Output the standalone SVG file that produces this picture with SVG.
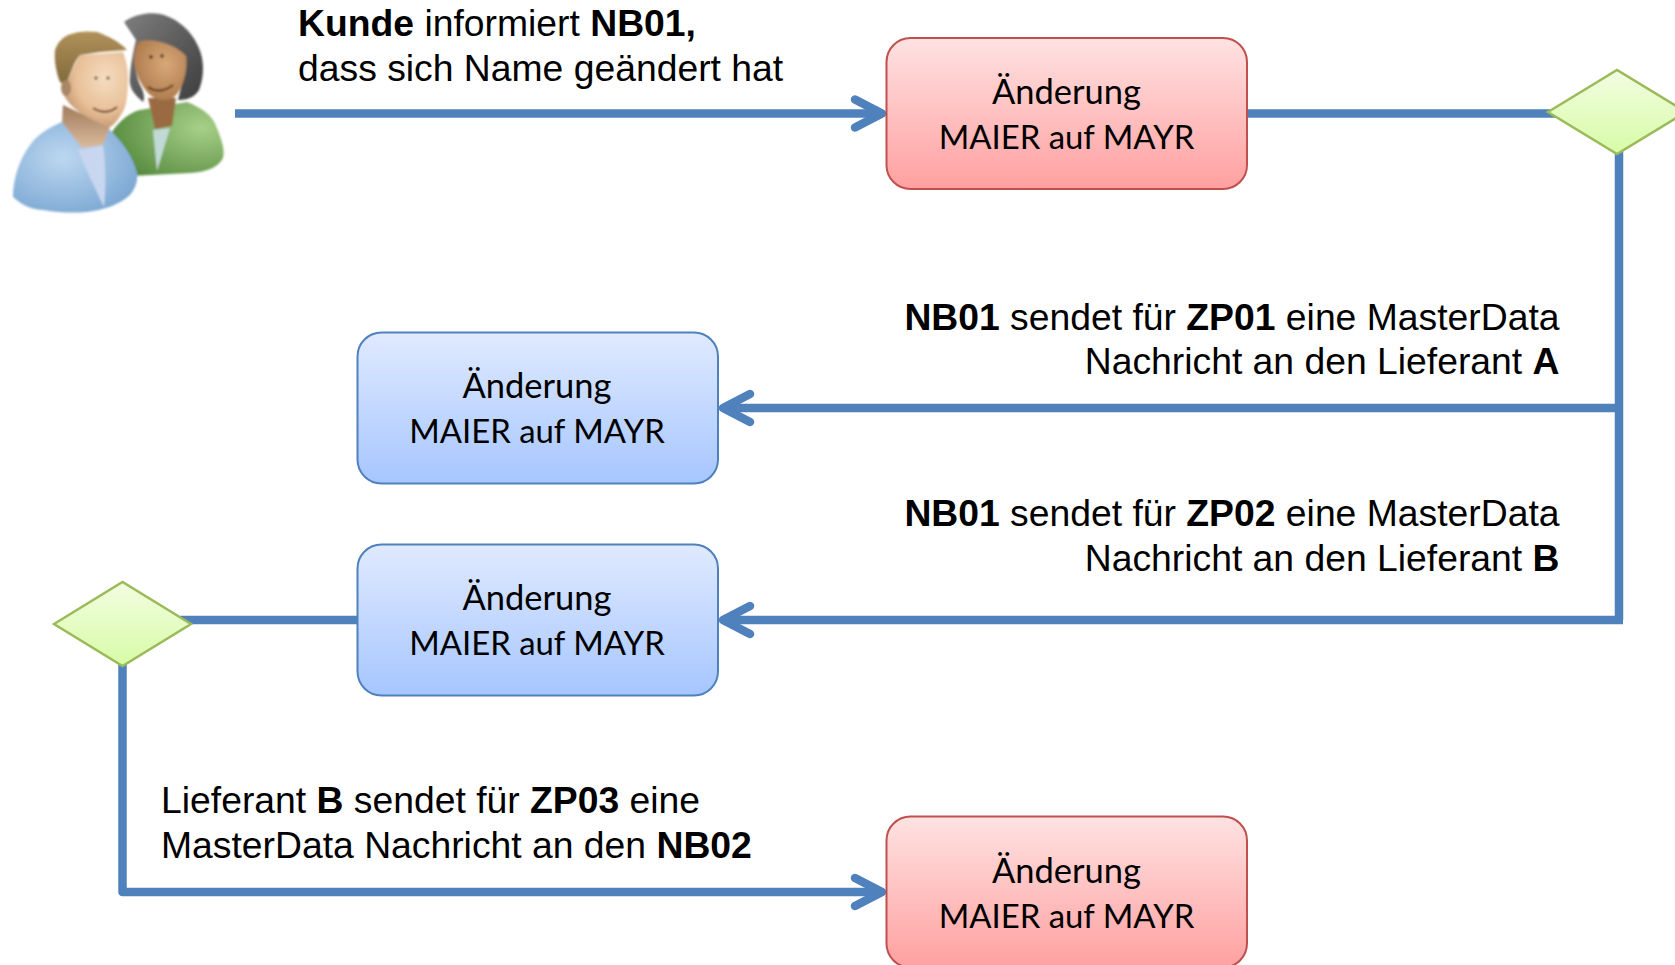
<svg xmlns="http://www.w3.org/2000/svg" width="1675" height="965" viewBox="0 0 1675 965">
<style>
.c{fill:none;stroke:#4f81bd;stroke-width:8.5;stroke-linejoin:round}
.a{fill:none;stroke:#4f81bd;stroke-width:8.5;stroke-linecap:round;stroke-linejoin:round}
.n{stroke-width:2}
.r{fill:url(#red);stroke:#c0504d}
.b{fill:url(#blue);stroke:#4f81bd}
.d{fill:url(#green);stroke:#9bbb59;stroke-width:2.5}
.bt{font-family:"Lato","Noto Sans",sans-serif;font-size:32.9px;fill:#000;text-anchor:middle}
.bu{font-size:34.5px}
.t{font-family:"Liberation Sans",Arial,sans-serif;font-size:37.3px;fill:#000}
.e{text-anchor:end}
.h{font-weight:bold}
</style>
<defs>
<linearGradient id="red" x1="0" y1="0" x2="0" y2="1"><stop offset="0" stop-color="#ffe2e2"/><stop offset="1" stop-color="#ffa0a0"/></linearGradient>
<linearGradient id="blue" x1="0" y1="0" x2="0" y2="1"><stop offset="0" stop-color="#e0eaff"/><stop offset="1" stop-color="#a6c6ff"/></linearGradient>
<linearGradient id="green" x1="0" y1="0" x2="0" y2="1"><stop offset="0" stop-color="#f2fde2"/><stop offset="1" stop-color="#d8fba6"/></linearGradient>
<radialGradient id="skinM" cx=".65" cy=".35" r=".75"><stop offset="0" stop-color="#f6dcc0"/><stop offset=".6" stop-color="#e8c098"/><stop offset="1" stop-color="#b98d66"/></radialGradient>
<radialGradient id="skinF" cx=".6" cy=".4" r=".7"><stop offset="0" stop-color="#d9a878"/><stop offset="1" stop-color="#a87648"/></radialGradient>
<linearGradient id="hairM" x1="0" y1="0" x2="0" y2="1"><stop offset="0" stop-color="#b0915a"/><stop offset="1" stop-color="#826a3c"/></linearGradient>
<linearGradient id="hairF" x1="0" y1="0" x2="1" y2="1"><stop offset="0" stop-color="#7e7e7e"/><stop offset="1" stop-color="#3c3c3c"/></linearGradient>
<radialGradient id="shirtB" cx=".4" cy=".4" r=".75"><stop offset="0" stop-color="#bcd8f0"/><stop offset="1" stop-color="#75a2d0"/></radialGradient>
<radialGradient id="shirtG" cx=".8" cy=".35" r=".85"><stop offset="0" stop-color="#a8d088"/><stop offset="1" stop-color="#558a3e"/></radialGradient>
<linearGradient id="neckM" x1="0" y1="0" x2="0" y2="1"><stop offset="0" stop-color="#a07a5a"/><stop offset="1" stop-color="#dcbc9e"/></linearGradient>
<filter id="soft" x="-10%" y="-10%" width="120%" height="120%"><feGaussianBlur stdDeviation=".8"/></filter>
</defs>

<g id="connectors">
<path class="c" d="M235 113.500H880"/>
<path class="a" d="M855 99.500L882 113.500L855 127.500"/>
<path class="c" d="M1247 113.500H1560"/>
<path class="c" d="M1619 150V620"/>
<path class="c" d="M1623 408H724"/>
<path class="a" d="M750 394L723 408L750 422"/>
<path class="c" d="M1623 620H724"/>
<path class="a" d="M750 606L723 620L750 634"/>
<path class="c" d="M357 620H180"/>
<path class="c" d="M122.500 660V892H880"/>
<path class="a" d="M855 878L882 892L855 906"/>
</g>

<g id="people" filter="url(#soft)">
<path d="M112 132C118 122 130 112 140 110L187 102C202 108 213 116 216 126C222 140 225 150 223 158C218 168 205 172 190 173L130 176Z" fill="url(#shirtG)"/>
<path d="M153 130L170 128L157 171Z" fill="#c2dad6"/>
<path d="M148 98H176L172 126L155 129Z" fill="#9a6a42"/>
<path d="M124 22C135 14 150 12 160 14C178 18 192 32 198 46C204 58 205 75 199 90C194 98 186 100 178 100L185 70L140 42C133 55 134 70 140 85C144 92 145 98 143 102C135 95 128 88 130 76C131 62 134 48 136 40Z" fill="url(#hairF)"/>
<path d="M138 42C150 37 175 44 186 56C188 72 182 90 174 97C165 103 155 100 148 93C140 84 134 70 134 60C134 52 136 46 138 42Z" fill="url(#skinF)"/>
<path d="M148 87Q160 95 173 85" fill="none" stroke="#5a3518" stroke-width="2"/>
<circle cx="151" cy="57" r="1.7" fill="#3a2510"/><circle cx="162" cy="56" r="1.7" fill="#3a2510"/>
<path d="M62 122C48 128 38 134 30 145C20 158 13 178 13 197C22 205 32 210 43 210C60 213 75 213 87 212C105 210 120 204 130 195C136 188 138 180 137 173C134 160 125 145 112 132L105 125Z" fill="url(#shirtB)"/>
<path d="M78 150L103 145C106 165 106 190 104 207C96 190 86 170 78 150Z" fill="#c8d6f0"/>
<path d="M63 105L110 127L103 145L82 148L62 122Z" fill="url(#neckM)"/>
<path d="M80 55L123 52C126 60 128 68 128 77C128 90 127 100 125 107C120 118 115 124 110 127C103 125 98 123 93 120C85 116 78 112 73 107C68 102 65 98 63 93C68 80 74 65 80 55Z" fill="url(#skinM)"/>
<path d="M55 50C58 42 62 38 68 35C78 31 88 31 97 32C108 36 120 42 127 50L100 52L80 55C76 60 74 64 73 67C71 72 69 76 68 80C65 83 62 84 60 82C56 72 54 60 55 50Z" fill="url(#hairM)"/>
<ellipse cx="66" cy="88" rx="5" ry="8" fill="#a98666"/>
<path d="M93 108Q106 116 117 107" fill="none" stroke="#6a4020" stroke-width="2"/>
<circle cx="96" cy="78" r="1.5" fill="#40301e"/><circle cx="108" cy="78" r="1.5" fill="#40301e"/>
</g>

<g id="node-red-1">
<rect class="n r" x="886.500" y="38" width="360.500" height="151" rx="24"/>
<text class="bt bu" x="1066.500" y="104">Änderung</text>
<text class="bt" x="1066.500" y="149">MAIER auf MAYR</text>
</g>
<g id="diamond-1"><path class="d" d="M1548 112L1617 70L1686 112L1617 154Z"/></g>
<g id="node-blue-1">
<rect class="n b" x="357.500" y="332.500" width="360.500" height="151" rx="24"/>
<text class="bt bu" x="537" y="398">Änderung</text>
<text class="bt" x="537" y="443">MAIER auf MAYR</text>
</g>
<g id="node-blue-2">
<rect class="n b" x="357.500" y="544.500" width="360.500" height="151" rx="24"/>
<text class="bt bu" x="537" y="610">Änderung</text>
<text class="bt" x="537" y="655">MAIER auf MAYR</text>
</g>
<g id="diamond-2"><path class="d" d="M54 624L122.500 582L191 624L122.500 666Z"/></g>
<g id="node-red-2">
<rect class="n r" x="886.500" y="816.500" width="360.500" height="151" rx="24"/>
<text class="bt bu" x="1066.500" y="883">Änderung</text>
<text class="bt" x="1066.500" y="928">MAIER auf MAYR</text>
</g>

<g id="labels">
<text class="t" x="298" y="36"><tspan class="h">Kunde</tspan> informiert <tspan class="h">NB01,</tspan></text>
<text class="t" x="298" y="81">dass sich Name geändert hat</text>
<text class="t e" x="1559.500" y="330"><tspan class="h">NB01</tspan> sendet für <tspan class="h">ZP01</tspan> eine MasterData</text>
<text class="t e" x="1559.500" y="374">Nachricht an den Lieferant <tspan class="h">A</tspan></text>
<text class="t e" x="1559.500" y="526"><tspan class="h">NB01</tspan> sendet für <tspan class="h">ZP02</tspan> eine MasterData</text>
<text class="t e" x="1559.500" y="570.500">Nachricht an den Lieferant <tspan class="h">B</tspan></text>
<text class="t" x="161" y="813">Lieferant <tspan class="h">B</tspan> sendet für <tspan class="h">ZP03</tspan> eine</text>
<text class="t" x="161" y="857.500">MasterData Nachricht an den <tspan class="h">NB02</tspan></text>
</g>
</svg>
